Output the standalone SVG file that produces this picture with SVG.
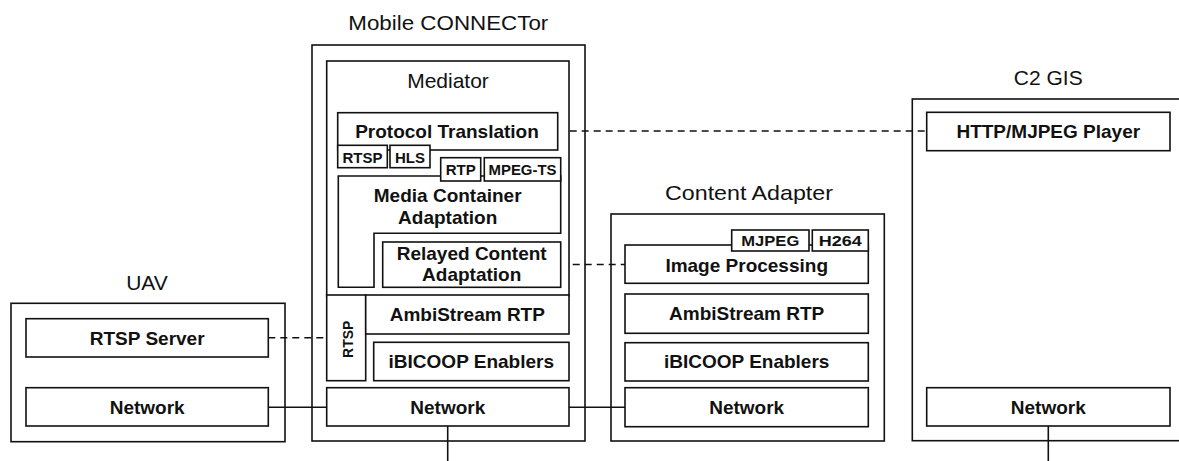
<svg xmlns="http://www.w3.org/2000/svg" width="1179" height="461" viewBox="0 0 1179 461">
  <style>
    .box { fill: #fff; stroke: #111; stroke-width: 1.6; }
    .frame { fill: none; stroke: #111; stroke-width: 1.6; }
    .title { font-family: "Liberation Sans", Arial, Helvetica, sans-serif; font-size: 21px; fill: #111; text-anchor: middle; }
    .lbl { font-family: "Liberation Sans", Arial, Helvetica, sans-serif; font-size: 19px; font-weight: bold; fill: #111; text-anchor: middle; }
    .sm { font-family: "Liberation Sans", Arial, Helvetica, sans-serif; font-size: 15px; font-weight: bold; fill: #111; text-anchor: middle; }
    .solid { fill: none; stroke: #111; stroke-width: 1.6; }
    .dash { fill: none; stroke: #111; stroke-width: 1.6; stroke-dasharray: 7 5; }
  </style>

  <g id="connectors">
    <line class="dash" x1="557.7" y1="131" x2="926.7" y2="131"/>
    <line class="dash" x1="560.7" y1="264.5" x2="625" y2="264.5"/>
    <line class="dash" x1="268.3" y1="337.7" x2="326.7" y2="337.7"/>
    <line class="solid" x1="268.3" y1="407.3" x2="326.7" y2="407.3"/>
    <line class="solid" x1="569" y1="407.3" x2="625" y2="407.3"/>
    <line class="solid" x1="447.7" y1="426" x2="447.7" y2="461"/>
    <line class="solid" x1="1048.3" y1="426" x2="1048.3" y2="461"/>
  </g>

  <!-- UAV -->
  <g id="uav">
    <text class="title" x="147" y="290">UAV</text>
    <rect class="frame" x="11" y="303.3" width="274" height="138.4"/>
    <g id="uav-rtsp-server">
      <rect class="box" x="26" y="318.7" width="242.3" height="38.3"/>
      <text class="lbl" x="147.2" y="345">RTSP Server</text>
    </g>
    <g id="uav-network">
      <rect class="box" x="26" y="387.7" width="242.3" height="38.3"/>
      <text class="lbl" x="147.2" y="414">Network</text>
    </g>
  </g>

  <!-- Mobile CONNECTor -->
  <g id="mobile-connector">
    <text class="title" x="448.3" y="30" textLength="200" lengthAdjust="spacingAndGlyphs">Mobile CONNECTor</text>
    <rect class="frame" x="312" y="45" width="273" height="396"/>
    <g id="mediator">
      <rect class="box" x="326.7" y="61" width="242.3" height="235"/>
      <text class="title" x="448" y="88.3">Mediator</text>
    </g>
    <g id="protocol-translation">
      <rect class="box" x="337.7" y="112.7" width="220" height="37.3"/>
      <text class="lbl" x="447" y="138">Protocol Translation</text>
    </g>
    <g id="pt-rtsp">
      <rect class="box" x="337.7" y="145.3" width="49.6" height="22.4"/>
      <text class="sm" x="362.5" y="162.5">RTSP</text>
    </g>
    <g id="pt-hls">
      <rect class="box" x="390" y="145.3" width="40" height="22.4"/>
      <text class="sm" x="410" y="162.5">HLS</text>
    </g>
    <g id="media-container-adaptation">
      <polygon class="box" points="338.3,176 560.7,176 560.7,233.3 374,233.3 374,287.3 338.3,287.3"/>
      <text class="lbl" x="447.7" y="201.7">Media Container</text>
      <text class="lbl" x="447.7" y="224.3">Adaptation</text>
    </g>
    <g id="mc-rtp">
      <rect class="box" x="440.7" y="157.7" width="40" height="23.3"/>
      <text class="sm" x="460.7" y="175">RTP</text>
    </g>
    <g id="mc-mpegts">
      <rect class="box" x="484.3" y="157.7" width="76.4" height="23.3"/>
      <text class="sm" x="522.5" y="175" textLength="68" lengthAdjust="spacingAndGlyphs">MPEG-TS</text>
    </g>
    <g id="relayed-content-adaptation">
      <rect class="box" x="382.7" y="242" width="178" height="45.3"/>
      <text class="lbl" x="471.7" y="260">Relayed Content</text>
      <text class="lbl" x="471.7" y="281">Adaptation</text>
    </g>
    <g id="mc-rtsp-vertical">
      <rect class="box" x="326.7" y="295" width="39" height="85.7"/>
      <text class="sm" transform="translate(352.5,339.3) rotate(-90)" x="0" y="0" style="font-size:14px">RTSP</text>
    </g>
    <g id="mc-ambistream">
      <rect class="box" x="365.7" y="295" width="203.3" height="39"/>
      <text class="lbl" x="467.3" y="320.7">AmbiStream RTP</text>
    </g>
    <g id="mc-ibicoop">
      <rect class="box" x="373.7" y="342.3" width="195.3" height="38.4"/>
      <text class="lbl" x="471.3" y="367.5">iBICOOP Enablers</text>
    </g>
    <g id="mc-network">
      <rect class="box" x="326.7" y="387.7" width="242.3" height="38.3"/>
      <text class="lbl" x="447.8" y="413.5">Network</text>
    </g>
  </g>

  <!-- Content Adapter -->
  <g id="content-adapter">
    <text class="title" x="749" y="200" textLength="168" lengthAdjust="spacingAndGlyphs">Content Adapter</text>
    <rect class="frame" x="611" y="214" width="273.3" height="227"/>
    <g id="image-processing">
      <rect class="box" x="625" y="245" width="243.3" height="38.3"/>
      <text class="lbl" x="746.7" y="271.7">Image Processing</text>
    </g>
    <g id="ca-mjpeg">
      <rect class="box" x="731.7" y="230" width="77.3" height="21"/>
      <text class="sm" x="770.3" y="246" textLength="58" lengthAdjust="spacingAndGlyphs">MJPEG</text>
    </g>
    <g id="ca-h264">
      <rect class="box" x="812.3" y="230" width="56" height="21"/>
      <text class="sm" x="840.3" y="246" textLength="43" lengthAdjust="spacingAndGlyphs">H264</text>
    </g>
    <g id="ca-ambistream">
      <rect class="box" x="625" y="294" width="243.3" height="39.3"/>
      <text class="lbl" x="746.7" y="320">AmbiStream RTP</text>
    </g>
    <g id="ca-ibicoop">
      <rect class="box" x="625" y="342.7" width="243.3" height="38.3"/>
      <text class="lbl" x="746.7" y="368">iBICOOP Enablers</text>
    </g>
    <g id="ca-network">
      <rect class="box" x="625" y="387.7" width="243.3" height="39"/>
      <text class="lbl" x="746.7" y="413.5">Network</text>
    </g>
  </g>

  <!-- C2 GIS -->
  <g id="c2-gis">
    <text class="title" x="1048.3" y="85">C2 GIS</text>
    <rect class="frame" x="912.3" y="99" width="280" height="341.7"/>
    <g id="http-mjpeg-player">
      <rect class="box" x="926.7" y="112.3" width="243.3" height="38.4"/>
      <text class="lbl" x="1048.3" y="138">HTTP/MJPEG Player</text>
    </g>
    <g id="c2-network">
      <rect class="box" x="926.7" y="387.7" width="243.3" height="38.3"/>
      <text class="lbl" x="1048.3" y="413.5">Network</text>
    </g>
  </g>
</svg>
